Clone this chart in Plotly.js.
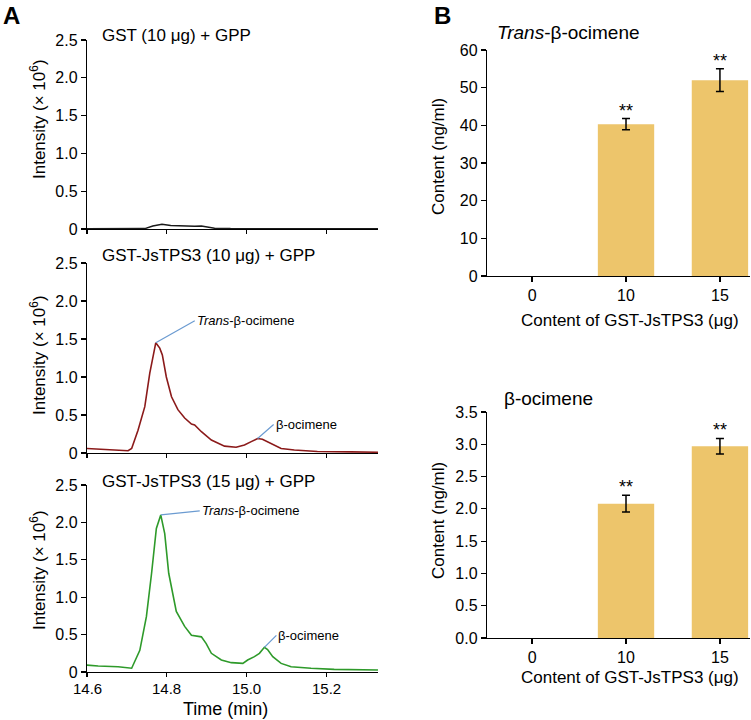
<!DOCTYPE html>
<html>
<head>
<meta charset="utf-8">
<script src="https://cdn.plot.ly/plotly-3.0.1.min.js"></script>
<style>
  html, body { margin: 0; padding: 0; background: #fff; }
  #chart { width: 751px; height: 720px; }
</style>
</head>
<body>
<div id="chart"></div>
<script>
// Panel A: chromatograms (time in min, intensity in 10^6)
const timeGst = [14.6, 14.7, 14.745, 14.765, 14.788, 14.81, 14.845, 14.87, 14.887, 14.905, 14.92, 14.96, 15.0, 15.1, 15.2, 15.33];
const gst = [0.003, 0.003, 0.005, 0.04, 0.062, 0.045, 0.036, 0.035, 0.04, 0.025, 0.01, 0.005, 0.004, 0.002, 0.002, 0.002];

const timeTps10 = [14.595, 14.62, 14.645, 14.67, 14.703, 14.712, 14.728, 14.745, 14.7575, 14.7725, 14.7825, 14.789, 14.799, 14.812, 14.828,
  14.845, 14.862, 14.87, 14.887, 14.912, 14.945, 14.974, 14.995, 15.012, 15.028, 15.04, 15.062, 15.087, 15.12, 15.178, 15.262, 15.33];
const tps10 = [0.06, 0.055, 0.049, 0.045, 0.03, 0.06, 0.30, 0.61, 1.05, 1.45, 1.38, 1.29, 1.00, 0.74, 0.57,
  0.46, 0.38, 0.37, 0.28, 0.17, 0.09, 0.075, 0.105, 0.15, 0.19, 0.18, 0.12, 0.06, 0.04, 0.02, 0.015, 0.01];

const timeTps15 = [14.595, 14.628, 14.678, 14.712, 14.7325, 14.749, 14.762, 14.774, 14.785, 14.795, 14.805, 14.816, 14.824, 14.845, 14.862,
  14.887, 14.899, 14.912, 14.937, 14.962, 14.991, 15.003, 15.02, 15.0325, 15.045, 15.053, 15.066, 15.087, 15.112, 15.162, 15.22, 15.33];
const tps15 = [0.094, 0.08, 0.07, 0.05, 0.29, 0.74, 1.32, 1.92, 2.10, 1.85, 1.32, 1.01, 0.81, 0.61, 0.49,
  0.47, 0.38, 0.25, 0.16, 0.125, 0.115, 0.16, 0.205, 0.25, 0.33, 0.30, 0.205, 0.115, 0.07, 0.05, 0.035, 0.027];

const timeTicks = [14.6, 14.8, 15.0, 15.2];
const timeTickText = ['14.6', '14.8', '15.0', '15.2'];
const intensityTicks = [0, 0.5, 1.0, 1.5, 2.0, 2.5];
const intensityTickText = ['0', '0.5', '1.0', '1.5', '2.0', '2.5'];

// Panel B: product content
const enzymeAmounts = ['0', '10', '15'];
const transContent = [0, 40.3, 52.0];
const transErr = [null, 1.5, 3.0];
const betaContent = [0, 2.08, 2.97];
const betaErr = [null, 0.13, 0.12];
const significance = ['', '**', '**'];

const font = 'Liberation Sans, Arial, sans-serif';
const W = 751, H = 720;
const px = v => v / W;
const py = v => 1 - v / H;

const axisBase = {
  showline: true, linecolor: '#000', linewidth: 1.2, mirror: false,
  ticks: 'outside', ticklen: 5, tickwidth: 1.2, tickcolor: '#000',
  showgrid: false, zeroline: false,
  tickfont: { family: font, size: 16, color: '#000' }
};
// time tick labels are drawn as annotations so they can sit close to the axis
const timeAxis = () => Object.assign({}, axisBase, {
  domain: [px(87), px(378)], range: [14.6, 15.33], ticklen: 4,
  tickvals: timeTicks, showticklabels: false
});
const intAxis = (dom) => Object.assign({}, axisBase, {
  domain: dom, range: [0, 2.5], tickvals: intensityTicks, ticktext: intensityTickText
});

function peakIndex(t, v, lo, hi) {
  let best = -1;
  for (let i = 0; i < t.length; i++) {
    if (t[i] >= lo && t[i] <= hi && (best < 0 || v[i] > v[best])) best = i;
  }
  return best;
}
function peakLabel(t, v, lo, hi, xr, yr, text, ax, ay) {
  const i = peakIndex(t, v, lo, hi);
  return {
    x: t[i], y: v[i], xref: xr, yref: yr, text: text,
    showarrow: true, arrowhead: 0, arrowwidth: 1.2, arrowcolor: '#6b9bd1',
    ax: ax, ay: ay, xanchor: 'left', yanchor: 'middle', standoff: 0,
    font: { family: font, size: 13, color: '#000' }
  };
}

// error bars only where a deviation exists
function errTrace(vals, errs, xr, yr) {
  const keep = enzymeAmounts.map((_, i) => i).filter(i => errs[i] != null);
  return {
    x: keep.map(i => enzymeAmounts[i]), y: keep.map(i => vals[i]),
    type: 'scatter', mode: 'markers', marker: { size: 1, opacity: 0 },
    error_y: { type: 'data', array: keep.map(i => errs[i]), color: '#000', thickness: 1.5, width: 4 },
    xaxis: xr, yaxis: yr
  };
}

const traces = [
  { x: timeGst, y: gst, type: 'scatter', mode: 'lines', line: { color: '#1a1a1a', width: 1.5 }, xaxis: 'x', yaxis: 'y' },
  { x: timeTps10, y: tps10, type: 'scatter', mode: 'lines', line: { color: '#8b1a1a', width: 1.6 }, xaxis: 'x2', yaxis: 'y2' },
  { x: timeTps15, y: tps15, type: 'scatter', mode: 'lines', line: { color: '#2e9a2a', width: 1.6 }, xaxis: 'x3', yaxis: 'y3' },
  { x: enzymeAmounts, y: transContent, type: 'bar', width: 0.6, marker: { color: '#edc56b' }, xaxis: 'x4', yaxis: 'y4' },
  errTrace(transContent, transErr, 'x4', 'y4'),
  { x: enzymeAmounts, y: betaContent, type: 'bar', width: 0.6, marker: { color: '#edc56b' }, xaxis: 'x5', yaxis: 'y5' },
  errTrace(betaContent, betaErr, 'x5', 'y5')
];

const text = (x, y, t, size, opts) => Object.assign({
  x: px(x), y: py(y), xref: 'paper', yref: 'paper', text: t, showarrow: false,
  xanchor: 'left', yanchor: 'middle', font: { family: font, size: size, color: '#000' }
}, opts || {});

const annotations = [
  text(1, 15, '<b>A</b>', 24),
  text(432, 15, '<b>B</b>', 24),
  text(100, 35, 'GST (10 μg) + GPP', 17),
  text(100, 255, 'GST-JsTPS3 (10 μg) + GPP', 17),
  text(100, 482, 'GST-JsTPS3 (15 μg) + GPP', 17),
  text(38, 119, 'Intensity (× 10<sup>6</sup>)', 17, { xanchor: 'center', textangle: -90 }),
  text(38, 355, 'Intensity (× 10<sup>6</sup>)', 17, { xanchor: 'center', textangle: -90 }),
  text(38, 570, 'Intensity (× 10<sup>6</sup>)', 17, { xanchor: 'center', textangle: -90 }),
  text(225, 709, 'Time (min)', 18, { xanchor: 'center' }),
  text(495, 33, '<i>Trans</i>-β-ocimene', 19),
  text(502, 398, 'β-ocimene', 19),
  text(438, 157, 'Content (ng/ml)', 17, { xanchor: 'center', textangle: -90 }),
  text(438, 521, 'Content (ng/ml)', 17, { xanchor: 'center', textangle: -90 }),
  text(630, 320, 'Content of GST-JsTPS3 (μg)', 17, { xanchor: 'center' }),
  text(630, 677, 'Content of GST-JsTPS3 (μg)', 17, { xanchor: 'center' }),
  peakLabel(timeTps10, tps10, 14.7, 14.9, 'x2', 'y2', '<i>Trans</i>-β-ocimene', 39, -22),
  peakLabel(timeTps10, tps10, 15.0, 15.1, 'x2', 'y2', 'β-ocimene', 16, -14),
  peakLabel(timeTps15, tps15, 14.7, 14.9, 'x3', 'y3', '<i>Trans</i>-β-ocimene', 39, -4),
  peakLabel(timeTps15, tps15, 15.0, 15.1, 'x3', 'y3', 'β-ocimene', 12, -12)
];

// bottom time axis labels
timeTicks.forEach((t, i) => {
  annotations.push({
    x: t, xref: 'x3', y: py(688), yref: 'paper', text: timeTickText[i], showarrow: false,
    xanchor: 'center', yanchor: 'middle', font: { family: font, size: 15, color: '#000' }
  });
});

// significance stars above error bars (category index used for x)
[[transContent, transErr, 'x4', 'y4'], [betaContent, betaErr, 'x5', 'y5']].forEach(([vals, errs, xr, yr]) => {
  enzymeAmounts.forEach((c, i) => {
    if (!significance[i]) return;
    annotations.push({
      x: i, y: vals[i] + (errs[i] || 0), xref: xr, yref: yr, text: significance[i],
      showarrow: false, xanchor: 'center', yanchor: 'bottom', yshift: -4,
      font: { family: font, size: 18, color: '#000' }
    });
  });
});

const catAxis = Object.assign({}, axisBase, {
  domain: [px(487), px(750)], type: 'category', range: [-0.48, 2.32]
});

const layout = {
  width: W, height: H,
  margin: { l: 0, r: 0, t: 0, b: 0 },
  paper_bgcolor: '#fff', plot_bgcolor: '#fff',
  showlegend: false,
  font: { family: font, color: '#000' },
  xaxis: Object.assign(timeAxis(), { anchor: 'y' }),
  yaxis: Object.assign(intAxis([py(229), py(40)]), { anchor: 'x' }),
  xaxis2: Object.assign(timeAxis(), { anchor: 'y2' }),
  yaxis2: Object.assign(intAxis([py(453), py(263)]), { anchor: 'x2' }),
  xaxis3: Object.assign(timeAxis(), { anchor: 'y3' }),
  yaxis3: Object.assign(intAxis([py(672), py(485)]), { anchor: 'x3' }),
  xaxis4: Object.assign({}, catAxis, { anchor: 'y4' }),
  yaxis4: Object.assign({}, axisBase, { domain: [py(276), py(50)], range: [0, 60], dtick: 10, anchor: 'x4' }),
  xaxis5: Object.assign({}, catAxis, { anchor: 'y5' }),
  yaxis5: Object.assign({}, axisBase, { domain: [py(638), py(412)], range: [0, 3.5], dtick: 0.5, tickformat: '.1f', anchor: 'x5' }),
  annotations: annotations
};

Plotly.newPlot('chart', traces, layout, { displayModeBar: false, staticPlot: true });
</script>
</body>
</html>
